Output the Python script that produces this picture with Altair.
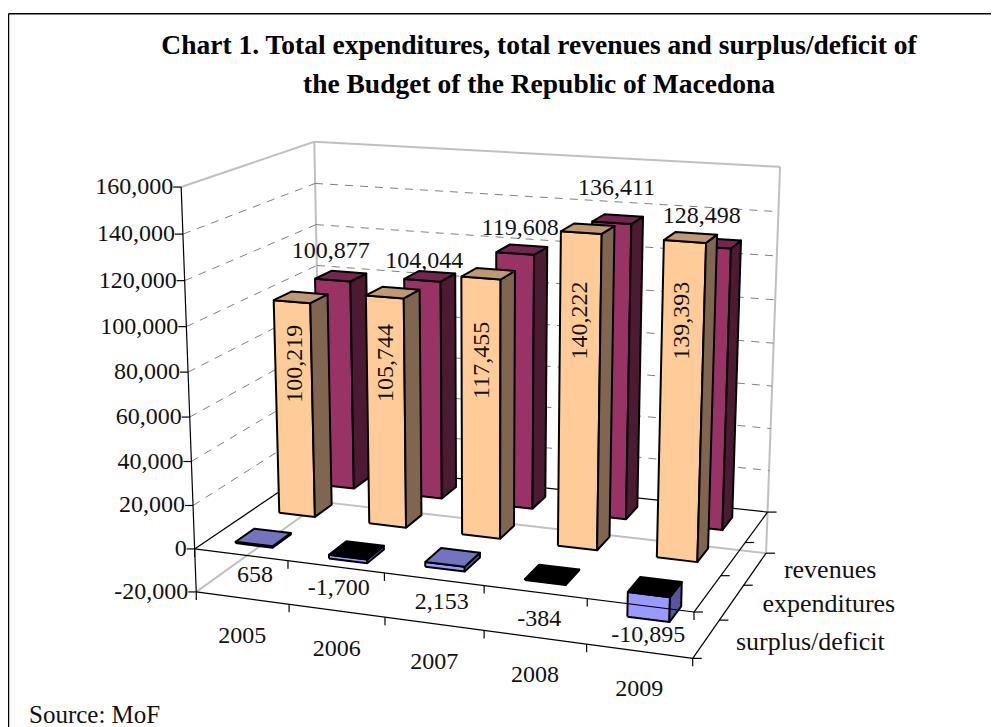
import altair as alt
import numpy as np
import pandas as pd

# ---- data ----
YEARS = ["2005", "2006", "2007", "2008", "2009"]
REVENUES = [100877, 104044, 119608, 136411, 128498]
EXPENDITURES = [100219, 105744, 117455, 140222, 139393]
SURPLUS = [658, -1700, 2153, -384, -10895]
SERIES_NAMES = ["surplus/deficit", "expenditures", "revenues"]
VALUE_TICKS = [-20000, 0, 20000, 40000, 60000, 80000, 100000, 120000, 140000, 160000]
TITLE_LINES = ["Chart 1. Total expenditures, total revenues and surplus/deficit of",
               "the Budget of the Republic of Macedona"]
SOURCE = "Source: MoF"

# ---- layout: perspective calibration from box corners (category, depth, value -> screen) ----
CORNERS = [
    (0, 0, 160000, 180.7, 186.7), (0, 0, -20000, 196.7, 591.0), (5, 0, -20000, 692.3, 659.0),
    (5, 3, -20000, 766.7, 552.7), (5, 3, 160000, 780.0, 167.3), (0, 3, 160000, 314.7, 141.7),
    (0, 3, -20000, 321.0, 503.0), (5, 0, 0, 694.0, 612.7), (0, 0, 0, 195.0, 549.0),
    (5, 3, 0, 767.3, 511.0),
]
rows, rhs = [], []
for u, d, w, px, py in CORNERS:
    w = w / 20000
    rows.append([u, d, w, 1, 0, 0, 0, 0, -px * u, -px * d, -px * w]); rhs.append(px)
    rows.append([0, 0, 0, 0, u, d, w, 1, -py * u, -py * d, -py * w]); rhs.append(py)
coef = np.linalg.lstsq(np.array(rows, float), np.array(rhs, float), rcond=None)[0]
M = np.append(coef, 1.0).reshape(3, 4)


def proj(u, d, w):
    h = M @ np.array([u, d, w / 20000, 1.0])
    return float(h[0] / h[2]), float(h[1] / h[2])


BAR_W, BAR_D = 0.4, 0.42
GRAY, DASH, BLACK = "#C0C0C0", "#808080", "#000000"

lines = {"frame": [], "gray": [], "dash": [], "black": []}


def seg(kind, a, b):
    i = len(lines[kind]) // 2
    lines[kind] += [{"id": i, "n": 0, "x": a[0], "y": a[1]}, {"id": i, "n": 1, "x": b[0], "y": b[1]}]


W, H = 983, 719
seg("frame", (8.5, 13.7), (8 + W, 13.7))
seg("frame", (8.5, 13.7), (8.5, 8 + H))
hi, lo = VALUE_TICKS[-1], VALUE_TICKS[0]
seg("gray", proj(0, 0, hi), proj(0, 3, hi))
seg("gray", proj(0, 3, hi), proj(5, 3, hi))
seg("gray", proj(0, 3, hi), proj(0, 3, lo))
seg("gray", proj(5, 3, hi), proj(5, 3, lo))
seg("gray", proj(0, 3, lo), proj(5, 3, lo))
seg("gray", proj(0, 0, lo), proj(0, 3, lo))
for v in VALUE_TICKS[2:-1]:
    seg("dash", proj(0, 0, v), proj(0, 3, v))
    seg("dash", proj(0, 3, v), proj(5, 3, v))
seg("black", proj(0, 0, hi), proj(0, 0, lo))
seg("black", proj(0, 0, 0), proj(0, 3, 0))
seg("black", proj(0, 3, 0), proj(5, 3, 0))
seg("black", proj(0, 0, lo), proj(5, 0, lo))
seg("black", proj(5, 0, lo), proj(5, 3, lo))
seg("black", proj(5, 0, 0), proj(5, 3, 0))
for v in VALUE_TICKS:
    x, y = proj(0, 0, v)
    seg("black", (x - 8, y), (x, y))
for u in range(6):
    for v in (0, lo):
        x, y = proj(u, 0, v)
        seg("black", (x, y), (x, y + 8))
for d in range(4):
    for v in (0, lo):
        x, y = proj(5, d, v)
        seg("black", (x, y), (x + 9, y))
a, b = proj(0, 0, 0), proj(5, 0, 0)
front_zero = [{"id": 0, "n": 0, "x": a[0], "y": a[1]}, {"id": 0, "n": 1, "x": b[0], "y": b[1]}]

polys = []


def face(pts, fill):
    i = polys[-1]["id"] + 1 if polys else 0
    for n, p in enumerate(pts + pts[:1]):
        polys.append({"id": i, "n": n, "x": p[0], "y": p[1], "fill": fill})


def bar(cat, row, val, front, side, top):
    u0, u1 = cat + 0.5 - BAR_W / 2, cat + 0.5 + BAR_W / 2
    d0, d1 = row + 0.5 - BAR_D / 2, row + 0.5 + BAR_D / 2
    w0, w1 = min(val, 0), max(val, 0)
    face([proj(u0, d0, w0), proj(u1, d0, w0), proj(u1, d0, w1), proj(u0, d0, w1)], front)
    face([proj(u1, d0, w0), proj(u1, d1, w0), proj(u1, d1, w1), proj(u1, d0, w1)], side)
    face([proj(u0, d0, w1), proj(u1, d0, w1), proj(u1, d1, w1), proj(u0, d1, w1)], top)


for c, v in enumerate(REVENUES):
    bar(c, 2, v, "#993366", "#4D1A33", "#732650")
for c, v in enumerate(EXPENDITURES):
    bar(c, 1, v, "#FFCC99", "#806650", "#BF9973")
for c, v in enumerate(SURPLUS):
    bar(c, 0, v, "#9999FF", "#5555A0", "#7373BF" if v > 0 else "#000000")

REV_NUDGE = [(-2, -29), (2, -19), (5, -26), (5, -35), (-9, -31)]
SUR_NUDGE = [(16, 7), (5, 8), (10, 10), (6, 14), (10, 17)]
EXP_NUDGE = [(0, -46), (0, -50), (1, -49), (1, -73), (1, -83)]
DEPTH_OFF = [(104, 3), (97, 2), (75, 1)]
labels = []


def label(x, y, text, align="center", size=24):
    labels.append({"x": x, "y": y, "t": text, "align": align, "size": size})


for c, v in enumerate(REVENUES):
    x, y = proj(c + 0.5, 2.5 - BAR_D / 2, v)
    label(x + REV_NUDGE[c][0], y + REV_NUDGE[c][1], f"{v:,}")
for c, v in enumerate(SURPLUS):
    x, y = proj(c + 0.5, 0, 0)
    label(x - 2 + SUR_NUDGE[c][0], y + 13 + SUR_NUDGE[c][1], f"{v:,}")
for c, y_ in enumerate(YEARS):
    x, y = proj(c + 0.5, 0, lo)
    label(x, y + 38, y_)
for r, (name, off) in enumerate(zip(SERIES_NAMES, DEPTH_OFF)):
    x, y = proj(5, r + 0.5, lo)
    label(x + off[0], y + off[1], name, size=26)
for v in VALUE_TICKS:
    x, y = proj(0, 0, v)
    label(x - 8, y, f"{v:,}", align="right")
lab_df = pd.DataFrame(labels)

rot = []
for c, v in enumerate(EXPENDITURES):
    x, y = proj(c + 0.5, 1.5 - BAR_D / 2, v / 2)
    rot.append({"x": x + EXP_NUDGE[c][0], "y": y + EXP_NUDGE[c][1], "t": f"{v:,}"})

X = alt.X("x:Q", axis=None, scale=alt.Scale(domain=[8, 8 + W], range=[0, W]))
Y = alt.Y("y:Q", axis=None, scale=alt.Scale(domain=[8, 8 + H], range=[0, H]))


def draw(rows_, **kw):
    return alt.Chart(alt.Data(values=rows_)).mark_line(**kw).encode(
        x=X, y=Y, detail="id:N", order="n:Q")


FONT = "Liberation Serif"
layers = [
    draw(lines["frame"], stroke=BLACK, strokeWidth=1.5),
    draw(lines["gray"], stroke=GRAY, strokeWidth=2),
    draw(lines["dash"], stroke=DASH, strokeWidth=1, strokeDash=[8, 7]),
    draw(lines["black"], stroke=BLACK, strokeWidth=1.2),
    alt.Chart(alt.Data(values=polys)).mark_line(stroke=BLACK, strokeWidth=2, strokeJoin="round").encode(
        x=X, y=Y, detail="id:N", order="n:Q", fill=alt.Fill("fill:N", scale=None)),
    draw(front_zero, stroke=BLACK, strokeWidth=1.2),
]
for al in ("center", "right"):
    for s in sorted(set(lab_df["size"])):
        sub = lab_df[(lab_df["align"] == al) & (lab_df["size"] == s)]
        if len(sub):
            layers.append(alt.Chart(sub).mark_text(
                font=FONT, fontSize=int(s), align=al, baseline="middle", color="#111111").encode(x=X, y=Y, text="t:N"))
layers.append(alt.Chart(pd.DataFrame(rot)).mark_text(
    font=FONT, fontSize=24, align="center", baseline="middle", angle=270, color="#111111").encode(x=X, y=Y, text="t:N"))
title_df = pd.DataFrame({"x": [539, 539], "y": [46, 85], "t": TITLE_LINES})
layers.append(alt.Chart(title_df).mark_text(
    font=FONT, fontSize=27.5, fontWeight="bold", align="center", baseline="middle", color="#000000").encode(x=X, y=Y, text="t:N"))
src_df = pd.DataFrame({"x": [29], "y": [715], "t": [SOURCE]})
layers.append(alt.Chart(src_df).mark_text(
    font=FONT, fontSize=25, align="left", baseline="middle", color="#111111").encode(x=X, y=Y, text="t:N"))

chart = alt.layer(*layers).properties(
    width=W, height=H, padding=0, autosize=alt.AutoSizeParams(type="none")
).configure_view(stroke=None)
chart.save("out.html", embed_options={"renderer": "svg", "actions": False})
